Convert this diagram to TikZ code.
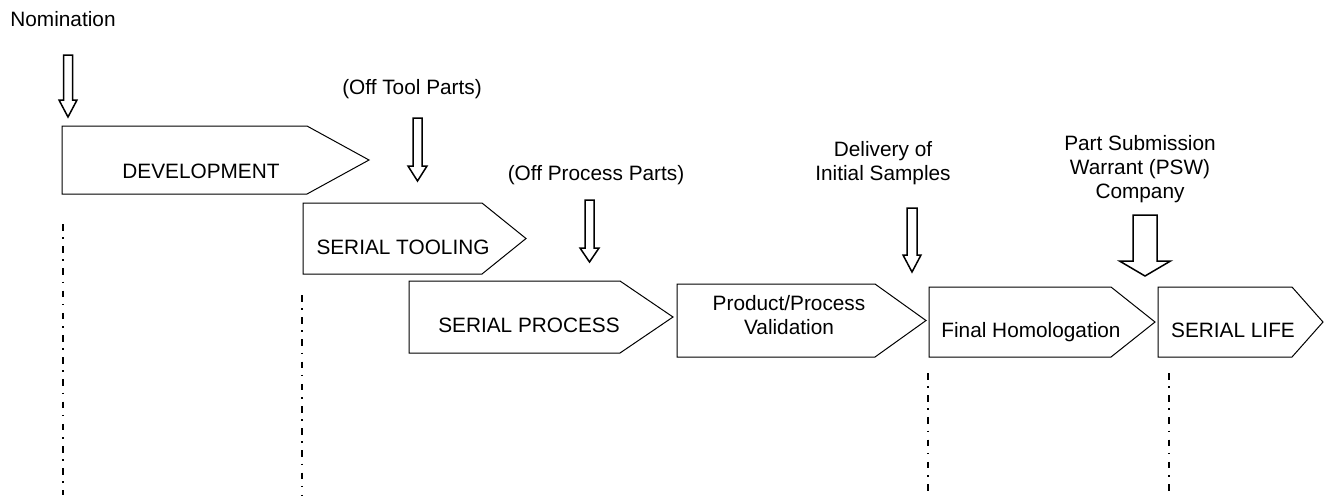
\documentclass[tikz,border=0pt]{standalone}
\usepackage{fontspec}
\setmainfont{Liberation Sans}
\begin{document}
\begin{tikzpicture}[x=0.5pt,y=-0.5pt,
  phase/.style={draw=black,line width=0.5pt,fill=white},
  barrow/.style={draw=black,line width=0.75pt,fill=white,line join=miter},
  milestone/.style={draw=black,line width=0.75pt,
    dash pattern=on 3.3pt off 3.3pt on 0.8pt off 3.7pt},
  lbl/.style={inner sep=0pt,anchor=base,align=center,
    font=\fontsize{10.4}{12}\selectfont}]
\useasboundingbox (0,0) rectangle (1328,495);

% pentagon phase box: left, top, bottom, shoulder, tip
\newcommand{\phasebox}[5]{%
  \draw[phase] (#1,#2) -- (#4,#2) -- (#5,{(#2+#3)/2}) -- (#4,#3) -- (#1,#3) -- cycle;}
% hollow block arrow: centre x, top, head base, tip, half shaft, half head
\newcommand{\blockarrow}[6]{%
  \draw[barrow] ({#1-#5},#2) -- ({#1+#5},#2) -- ({#1+#5},#3) -- ({#1+#6},#3)
    -- (#1,#4) -- ({#1-#6},#3) -- ({#1-#5},#3) -- cycle;}

% phases
\phasebox{62}{126}{194}{307}{369}
\phasebox{303}{203}{274}{482}{526}
\phasebox{409}{281}{353}{620}{673}
\phasebox{677}{284}{357}{875}{926}
\phasebox{929}{287}{357}{1111}{1155}
\phasebox{1158}{287}{357}{1292}{1323}

% phase names (base = baseline of the last line)
\node[lbl] (dev)  at (201,178)  {DEVELOPMENT};
\node[lbl] (tool) at (403,254)  {SERIAL TOOLING};
\node[lbl] (proc) at (529,332)  {SERIAL PROCESS};
\node[lbl] (val)  at (789,334)  {Product/Process\\Validation};
\node[lbl] (hom)  at (1031,337) {Final Homologation};
\node[lbl] (life) at (1233,337) {SERIAL LIFE};

% milestone labels
\node[lbl] (nom)   at (63,26)    {Nomination};
\node[lbl] (otp)   at (412,94)   {(Off Tool Parts)};
\node[lbl] (opp)   at (596,180)  {(Off Process Parts)};
\node[lbl] (dis)   at (883,180)  {Delivery of\\Initial Samples};
\node[lbl] (psw)   at (1140,198) {Part Submission\\Warrant (PSW)\\Company};

% milestone arrows
\blockarrow{68}{55}{100}{117}{4.5}{9}
\blockarrow{417.5}{118}{166}{181}{4.5}{9.5}
\blockarrow{589.5}{200}{248}{262}{4.5}{9.5}
\blockarrow{912}{208}{255}{272}{5}{9}
\blockarrow{1145}{215}{261}{276}{12}{25.5}

% milestone guide lines
\coordinate (g1t) at (63,224);  \coordinate (g1b) at (63,495);
\coordinate (g2t) at (302,295); \coordinate (g2b) at (302,495);
\coordinate (g3t) at (928,373); \coordinate (g3b) at (928,495);
\coordinate (g4t) at (1169,373); \coordinate (g4b) at (1169,495);
\draw[milestone] (g1t) -- (g1b);
\draw[milestone] (g2t) -- (g2b);
\draw[milestone] (g3t) -- (g3b);
\draw[milestone] (g4t) -- (g4b);
\end{tikzpicture}
\end{document}
